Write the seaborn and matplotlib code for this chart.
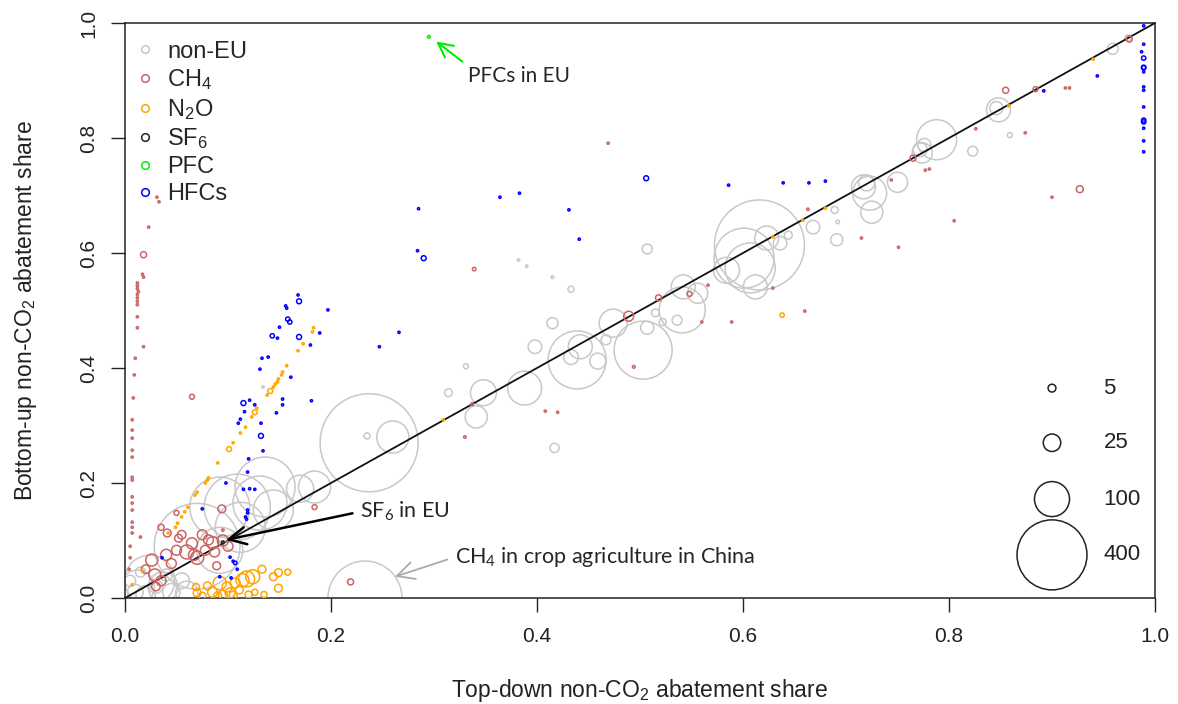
import numpy as np
import pandas as pd
import matplotlib
matplotlib.use("Agg")
import matplotlib.pyplot as plt
from matplotlib.lines import Line2D
import seaborn as sns

# ---------------- data ----------------
noneu_x = [0.024, 0.012, 0.037, 0.070, 0.092, 0.109, 0.131, 0.136, 0.144, 0.112, 0.092, 0.184, 0.170,
           0.010, 0.020, 0.030, 0.045, 0.060, 0.005, 0.015, 0.040, 0.055,
           0.237, 0.260, 0.235, 0.233, 0.134,
           0.314, 0.331, 0.341, 0.348, 0.388, 0.398, 0.417, 0.415, 0.433, 0.433, 0.439, 0.442, 0.459, 0.467,
           0.474, 0.503, 0.507, 0.507, 0.382, 0.390, 0.415,
           0.515, 0.522, 0.536, 0.541, 0.542, 0.556,
           0.584, 0.601, 0.607, 0.612, 0.616, 0.623, 0.636, 0.644, 0.668, 0.691, 0.689, 0.692,
           0.717, 0.723, 0.725, 0.720, 0.750,
           0.788, 0.774, 0.772, 0.776, 0.823, 0.848, 0.846, 0.859, 0.959, 0.974]
noneu_y = [0.031, 0.019, 0.019, 0.090, 0.158, 0.158, 0.165, 0.193, 0.153, 0.123, 0.083, 0.193, 0.190,
           0.010, 0.005, 0.020, 0.010, 0.010, 0.030, 0.045, 0.040, 0.030,
           0.270, 0.280, 0.282, 0.000, 0.367,
           0.357, 0.403, 0.315, 0.357, 0.365, 0.437, 0.261, 0.478, 0.537, 0.419, 0.414, 0.437, 0.412, 0.449,
           0.478, 0.431, 0.470, 0.607, 0.588, 0.577, 0.558,
           0.496, 0.480, 0.483, 0.501, 0.541, 0.530,
           0.570, 0.591, 0.574, 0.541, 0.614, 0.626, 0.617, 0.631, 0.645, 0.623, 0.675, 0.654,
           0.715, 0.704, 0.671, 0.722, 0.723,
           0.797, 0.774, 0.780, 0.788, 0.777, 0.849, 0.852, 0.805, 0.955, 0.974]
noneu_v = [204, 94, 73, 600, 294, 356, 238, 294, 131, 204, 173, 84, 60,
           20, 30, 15, 25, 40, 10, 8, 12, 20,
           784, 84, 3, 447, 0.4,
           5, 2, 40, 55, 94, 15, 7, 10, 3, 18, 275, 47, 21, 8,
           64, 275, 14, 8, 0.5, 0.5, 0.6,
           5, 4, 8, 173, 47, 33,
           55, 294, 204, 47, 661, 47, 15, 5, 15, 12, 4, 1,
           47, 94, 40, 21, 33,
           131, 33, 16, 14, 8, 47, 14, 2, 10, 3]

ch4_x = [0.031, 0.033, 0.023, 0.018, 0.017, 0.018, 0.012, 0.012, 0.012, 0.013, 0.012, 0.012, 0.012, 0.012,
         0.012, 0.012, 0.018, 0.010, 0.009, 0.008, 0.007, 0.007, 0.007, 0.007, 0.007, 0.007, 0.007, 0.007,
         0.007, 0.007, 0.007, 0.007, 0.007, 0.015, 0.005, 0.005, 0.004,
         0.065, 0.184,
         0.094, 0.075, 0.081, 0.085, 0.087, 0.078, 0.060, 0.050, 0.026, 0.029, 0.041, 0.035, 0.052, 0.050,
         0.089, 0.095, 0.067, 0.070, 0.040, 0.045, 0.020, 0.035, 0.030, 0.055, 0.065, 0.095, 0.100,
         0.219, 0.339, 0.469, 0.494, 0.408, 0.420, 0.330, 0.337, 0.489, 0.518, 0.548, 0.566, 0.560, 0.589,
         0.629, 0.660, 0.663, 0.715, 0.751, 0.744, 0.765, 0.777, 0.781, 0.805, 0.826, 0.874, 0.855, 0.884,
         0.913, 0.917, 0.900, 0.927, 0.975]
ch4_y = [0.697, 0.689, 0.645, 0.597, 0.563, 0.558, 0.548, 0.543, 0.538, 0.533, 0.528, 0.522, 0.516, 0.510,
         0.489, 0.470, 0.437, 0.417, 0.388, 0.348, 0.310, 0.292, 0.278, 0.257, 0.245, 0.210, 0.205, 0.176,
         0.165, 0.153, 0.132, 0.123, 0.113, 0.106, 0.090, 0.070, 0.050,
         0.350, 0.158,
         0.155, 0.110, 0.101, 0.096, 0.080, 0.083, 0.080, 0.083, 0.066, 0.040, 0.113, 0.123, 0.104, 0.148,
         0.056, 0.118, 0.075, 0.070, 0.075, 0.060, 0.050, 0.030, 0.020, 0.110, 0.095, 0.100, 0.090,
         0.028, 0.572, 0.791, 0.402, 0.325, 0.323, 0.280, 0.337, 0.490, 0.522, 0.529, 0.544, 0.480, 0.480,
         0.539, 0.499, 0.676, 0.626, 0.610, 0.727, 0.765, 0.744, 0.746, 0.656, 0.816, 0.809, 0.883, 0.885,
         0.887, 0.887, 0.697, 0.711, 0.972]
ch4_v = [0.4, 0.4, 0.4, 3, 0.4, 0.4, 0.4, 0.4, 0.4, 0.4, 0.4, 0.4, 0.4, 0.4,
         0.4, 0.4, 0.4, 0.4, 0.4, 0.4, 0.4, 0.4, 0.4, 0.4, 0.4, 0.4, 0.4, 0.4,
         0.4, 0.4, 0.4, 0.4, 0.4, 0.4, 0.4, 0.4, 0.4,
         2, 2,
         5, 8, 8, 12, 8, 8, 16, 8, 12, 12, 5, 3, 5, 2,
         5, 0.5, 10, 14, 10, 8, 6, 8, 6, 6, 10, 10, 8,
         3, 1, 0.4, 0.6, 0.4, 0.4, 0.5, 0.6, 8, 3, 2, 0.4, 0.4, 0.4,
         0.4, 0.4, 0.5, 0.4, 0.4, 0.4, 3, 0.4, 0.4, 0.4, 0.4, 0.4, 3, 2,
         0.4, 0.4, 0.4, 4, 3]

n2o_x = [0.183, 0.182, 0.173, 0.168, 0.157, 0.153, 0.152, 0.149, 0.148, 0.146, 0.144, 0.141, 0.138, 0.128,
         0.126, 0.123, 0.117, 0.112, 0.105, 0.101, 0.090, 0.081, 0.080, 0.078, 0.070, 0.068, 0.061, 0.058,
         0.055, 0.051, 0.049, 0.042, 0.007, 0.017,
         0.070, 0.069, 0.080, 0.085, 0.092, 0.099, 0.102, 0.107, 0.111, 0.118, 0.124, 0.114, 0.133, 0.126,
         0.144, 0.149, 0.149, 0.158, 0.090, 0.095, 0.075, 0.105, 0.120, 0.135,
         0.309, 0.638, 0.629, 0.658, 0.680, 0.858, 0.940]
n2o_y = [0.470, 0.463, 0.442, 0.430, 0.404, 0.393, 0.388, 0.381, 0.376, 0.372, 0.367, 0.360, 0.353, 0.330,
         0.323, 0.315, 0.297, 0.287, 0.270, 0.259, 0.235, 0.209, 0.205, 0.200, 0.184, 0.179, 0.158, 0.150,
         0.141, 0.130, 0.123, 0.113, 0.023, 0.047,
         0.009, 0.019, 0.021, 0.010, 0.026, 0.019, 0.009, 0.026, 0.014, 0.033, 0.037, 0.031, 0.050, 0.010,
         0.037, 0.044, 0.017, 0.045, 0.004, 0.006, 0.004, 0.005, 0.006, 0.006,
         0.310, 0.492, 0.628, 0.657, 0.678, 0.856, 0.937]
n2o_v = [0.4, 0.4, 0.4, 0.4, 0.4, 0.4, 0.4, 0.4, 0.4, 0.4, 0.4, 2, 0.4, 0.4,
         2, 0.4, 0.4, 0.4, 0.4, 2, 0.4, 0.4, 0.4, 0.4, 0.4, 0.4, 0.4, 0.4,
         0.4, 0.4, 0.4, 0.4, 0.4, 0.4,
         5, 4, 5, 8, 14, 8, 8, 8, 5, 21, 16, 14, 5, 3,
         5, 5, 5, 3, 5, 6, 4, 5, 4, 3,
         0.4, 1.5, 0.4, 0.4, 0.4, 0.4, 0.4]

hfc_x = [0.506, 0.364, 0.383, 0.285, 0.431, 0.441, 0.284, 0.290, 0.197, 0.266, 0.247, 0.189, 0.180, 0.168,
         0.169, 0.156, 0.157, 0.158, 0.160, 0.150, 0.143, 0.148, 0.169, 0.139, 0.133, 0.131, 0.161, 0.153,
         0.153, 0.181, 0.121, 0.115, 0.126, 0.116, 0.110, 0.112, 0.132, 0.132, 0.134, 0.120, 0.119, 0.098,
         0.115, 0.121, 0.126, 0.075, 0.119, 0.119, 0.117, 0.118, 0.036, 0.102, 0.105, 0.107, 0.109, 0.092,
         0.103, 0.147,
         0.586, 0.639, 0.664, 0.680, 0.944, 0.892,
         0.989, 0.989, 0.987, 0.989, 0.989, 0.989, 0.989, 0.989, 0.989, 0.989, 0.989, 0.989, 0.989, 0.989,
         0.989]
hfc_y = [0.730, 0.697, 0.704, 0.677, 0.675, 0.624, 0.604, 0.591, 0.501, 0.462, 0.437, 0.461, 0.440, 0.527,
         0.516, 0.508, 0.504, 0.485, 0.480, 0.471, 0.456, 0.452, 0.454, 0.419, 0.417, 0.398, 0.384, 0.346,
         0.336, 0.343, 0.344, 0.339, 0.336, 0.324, 0.304, 0.311, 0.304, 0.282, 0.256, 0.242, 0.219, 0.200,
         0.189, 0.190, 0.189, 0.155, 0.153, 0.148, 0.141, 0.137, 0.070, 0.071, 0.064, 0.061, 0.050, 0.037,
         0.035, 0.322,
         0.718, 0.722, 0.722, 0.725, 0.908, 0.882,
         0.995, 0.963, 0.950, 0.939, 0.923, 0.922, 0.915, 0.889, 0.883, 0.854, 0.831, 0.828, 0.817, 0.795,
         0.776]
hfc_v = [2, 0.4, 0.4, 0.4, 0.4, 0.4, 0.4, 2, 0.4, 0.4, 0.4, 0.4, 0.4, 0.4,
         2, 0.4, 0.4, 1.5, 1.5, 0.4, 1.5, 0.4, 2, 0.4, 0.4, 0.4, 0.4, 0.4,
         0.4, 0.4, 0.4, 2, 0.4, 0.4, 0.4, 0.4, 0.4, 2, 0.4, 0.4, 0.4, 0.4,
         0.4, 0.4, 0.4, 0.4, 0.4, 0.4, 0.4, 0.4, 0.4, 0.4, 0.4, 1, 0.4, 0.4,
         0.4, 0.4,
         0.4, 0.4, 0.4, 0.4, 0.4, 0.4,
         0.4, 0.4, 0.4, 1.5, 1.5, 1.5, 0.4, 0.4, 0.4, 0.4, 1.5, 1.5, 0.4, 0.4,
         0.4]

sf6_x = [0.095]
sf6_y = [0.097]
sf6_v = [0.6]

pfc_x = [0.295]
pfc_y = [0.976]
pfc_v = [0.6]

group_names = ["non-EU", "CH4", "N2O", "SF6", "PFC", "HFCs"]
legend_labels = ["non-EU", "CH$_4$", "N$_2$O", "SF$_6$", "PFC", "HFCs"]
group_colors = ["#c8c8c8", "#cd6464", "#ffa500", "#222222", "#00ee00", "#0000ff"]

size_legend_values = [5, 25, 100, 400]

# ---------------- figure ----------------
sns.set_style("ticks")
plt.rcParams["font.family"] = ["Liberation Sans", "DejaVu Sans"]
plt.rcParams["mathtext.fontset"] = "custom"
plt.rcParams["mathtext.rm"] = "Liberation Sans"
plt.rcParams["mathtext.it"] = "Liberation Sans:italic"

fig = plt.figure(figsize=(11.78, 7.04), dpi=100)
ax = fig.add_axes([125 / 1178, 1 - 598 / 704, 1030 / 1178, 575 / 704])

groups = {
    "non-EU": (noneu_x, noneu_y, noneu_v),
    "CH4": (ch4_x, ch4_y, ch4_v),
    "N2O": (n2o_x, n2o_y, n2o_v),
    "SF6": (sf6_x, sf6_y, sf6_v),
    "PFC": (pfc_x, pfc_y, pfc_v),
    "HFCs": (hfc_x, hfc_y, hfc_v),
}

SIZE_K = 6.35  # pt^2 per unit of value

frames = []
for name in group_names:
    gx, gy, gv = groups[name]
    frames.append(pd.DataFrame({"x": gx, "y": gy, "v": gv, "gas": name}))
df = pd.concat(frames, ignore_index=True)

order_z = {"non-EU": 2, "CH4": 4, "N2O": 4, "HFCs": 4, "SF6": 5, "PFC": 5}
for name, col in zip(group_names, group_colors):
    sub = df[df["gas"] == name]
    sns.scatterplot(data=sub, x="x", y="y", size="v", sizes=(0, SIZE_K * 1000),
                    size_norm=(0, 1000), facecolors="none", edgecolor=col,
                    linewidth=1.1, legend=False, ax=ax, zorder=order_z[name])

ax.plot([0, 1], [0, 1], color="#111111", lw=1.3, zorder=3)

ax.set_xlim(0, 1)
ax.set_ylim(0, 1)
ax.set_xticks([0, 0.2, 0.4, 0.6, 0.8, 1.0])
ax.set_yticks([0, 0.2, 0.4, 0.6, 0.8, 1.0])
ax.set_xticklabels(["0.0", "0.2", "0.4", "0.6", "0.8", "1.0"])
ax.set_yticklabels(["0.0", "0.2", "0.4", "0.6", "0.8", "1.0"])
ax.tick_params(axis="both", length=10, width=1, labelsize=15, colors="#222222")
ax.tick_params(axis="x", pad=11)
ax.tick_params(axis="y", pad=9, labelrotation=90)
for lab in ax.get_yticklabels():
    lab.set_va("center")
for sp in ax.spines.values():
    sp.set_linewidth(1.1)
    sp.set_color("#222222")

ax.set_xlabel("Top-down non-CO$_2$ abatement share", fontsize=16.5, color="#222222")
ax.set_ylabel("Bottom-up non-CO$_2$ abatement share", fontsize=16.5, color="#222222")
ax.xaxis.label.set_va("center")
ax.yaxis.label.set_va("center")
ax.xaxis.set_label_coords(0.5, -0.16)
ax.yaxis.set_label_coords(-0.097, 0.5)

# gas legend
handles = [Line2D([], [], ls="none", marker="o", markersize=5.5, markerfacecolor="none",
                  markeredgecolor=c, markeredgewidth=1.1) for c in group_colors]
ax.legend(handles, legend_labels, loc="upper left", bbox_to_anchor=(0.0, 0.988), frameon=False,
          fontsize=17, handlelength=0.8, handletextpad=0.53, labelspacing=0.2,
          borderaxespad=0.15, borderpad=0.3)

# size legend
leg_y = [0.365, 0.270, 0.172, 0.075]
for val, yy in zip(size_legend_values, leg_y):
    ax.scatter([0.900], [yy], s=SIZE_K * val, facecolors="none", edgecolors="#222222",
               linewidths=1.1, transform=ax.transAxes, zorder=6, clip_on=False)
    ax.text(0.950, yy, str(val), transform=ax.transAxes, fontsize=16, va="center", ha="left",
            color="#222222")

# annotations
ann_font = ["Lato", "DejaVu Sans"]
ax.annotate("PFCs in EU", xy=(0.302, 0.968), xytext=(0.333, 0.908),
            fontsize=15, family=ann_font, va="center", ha="left",
            arrowprops=dict(arrowstyle="->,head_length=0.7,head_width=0.35", color="#00ee00",
                            lw=1.5, shrinkA=2, shrinkB=0, relpos=(0, 1)))
ax.annotate("SF$\\mathregular{_6}$ in EU", xy=(0.098, 0.101), xytext=(0.228, 0.150),
            fontsize=15.5, family=ann_font, va="center", ha="left",
            arrowprops=dict(arrowstyle="->,head_length=0.8,head_width=0.4", color="black",
                            lw=1.8, shrinkA=3, shrinkB=0, relpos=(0, 0.5)), zorder=7)
ax.annotate("CH$\\mathregular{_4}$ in crop agriculture in China", xy=(0.262, 0.037),
            xytext=(0.320, 0.071), fontsize=15.5, family=ann_font, va="center", ha="left",
            arrowprops=dict(arrowstyle="->,head_length=0.8,head_width=0.4", color="#aaaaaa",
                            lw=1.3, shrinkA=3, shrinkB=0, relpos=(0, 0.5)))

fig.savefig("out.png", dpi=100)
